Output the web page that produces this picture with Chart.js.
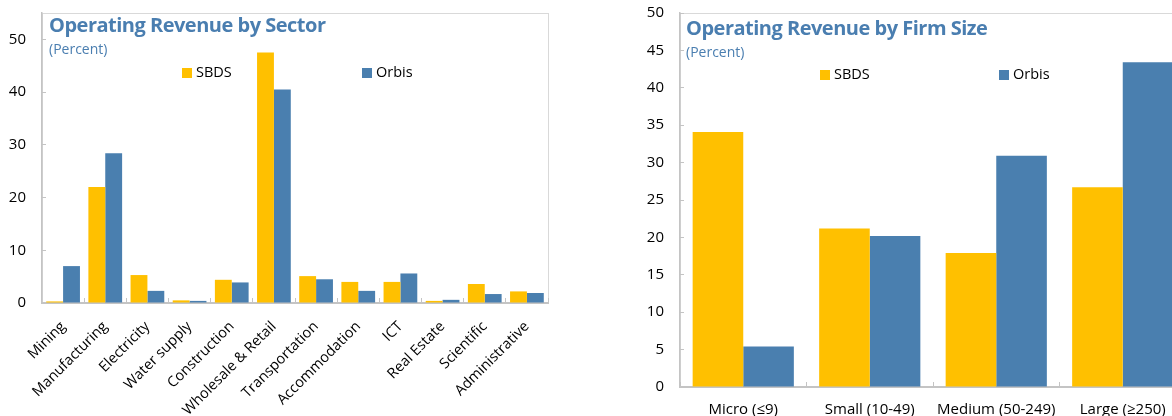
<!DOCTYPE html>
<html>
<head>
<meta charset="utf-8">
<script src="https://cdn.jsdelivr.net/npm/chart.js@4.4.1/dist/chart.umd.min.js"></script>
<style>
    body { margin: 0; width: 1172px; height: 416px; overflow: hidden; background: #fff; font-family: "Open Sans", sans-serif; position: relative; }
    .panel { position: absolute; top: 0; height: 416px; }
    .title { position: absolute; font-weight: bold; font-size: 20px; letter-spacing: -0.5px; line-height: 1; color: #4A7EB0; white-space: nowrap; }
    .sub { position: absolute; font-size: 14px; line-height: 1; color: #4A7EB0; white-space: nowrap; }
    .key { position: absolute; font-size: 14.5px; line-height: 1; color: #000; white-space: nowrap; }
    .key i { display: inline-block; width: 10px; height: 10px; margin-right: 4px; vertical-align: -1px; }
</style>
</head>
<body>
<div class="panel" style="left:0; width:560px;">
    <canvas id="sectorChart"></canvas>
    <div class="title" style="left:49px; top:15px;">Operating Revenue by Sector</div>
    <div class="sub" style="left:49px; top:42px;">(Percent)</div>
    <div class="key" style="left:182px; top:65px;"><i style="background:#FFC000"></i>SBDS</div>
    <div class="key" style="left:362px; top:65px;"><i style="background:#4A7FAF"></i>Orbis</div>
</div>
<div class="panel" style="left:630px; width:570px;">
    <canvas id="sizeChart"></canvas>
    <div class="title" style="left:56px; top:18px;">Operating Revenue by Firm Size</div>
    <div class="sub" style="left:56px; top:45px;">(Percent)</div>
    <div class="key" style="left:190px; top:67px;"><i style="background:#FFC000"></i>SBDS</div>
    <div class="key" style="left:369px; top:67px;"><i style="background:#4A7FAF"></i>Orbis</div>
</div>
<script>
// Data
const sectors = ['Mining', 'Manufacturing', 'Electricity', 'Water supply', 'Construction',
    'Wholesale & Retail', 'Transportation', 'Accommodation', 'ICT', 'Real Estate',
    'Scientific', 'Administrative'];
const sectorSBDS = [0.3, 22.0, 5.3, 0.5, 4.4, 47.5, 5.1, 4.0, 4.0, 0.4, 3.6, 2.2];
const sectorOrbis = [7.0, 28.4, 2.3, 0.4, 3.9, 40.5, 4.5, 2.3, 5.6, 0.6, 1.7, 1.9];

const sizes = ['Micro (≤9)', 'Small (10-49)', 'Medium (50-249)', 'Large (≥250)'];
const sizeSBDS = [34.1, 21.2, 17.9, 26.7];
const sizeOrbis = [5.4, 20.2, 30.9, 43.4];

// Colors
const gold = '#FFC000';
const blue = '#4A7FAF';
const axisGrey = '#C4C4C4';

Chart.defaults.font.family = '"Open Sans", sans-serif';
Chart.defaults.color = '#000';

// Light frame round the plot area
const framePlugin = {
    id: 'frame',
    beforeDraw(chart) {
        const a = chart.chartArea;
        const c = chart.ctx;
        c.save();
        c.strokeStyle = '#D9D9D9';
        c.lineWidth = 1;
        c.strokeRect(a.left + 0.5, a.top + 0.5, a.right - a.left, a.bottom - a.top);
        c.restore();
    }
};

function makeDatasets(sbds, orbis) {
    return [
        { label: 'SBDS', data: sbds, backgroundColor: gold, borderWidth: 0, categoryPercentage: 0.8, barPercentage: 1.0 },
        { label: 'Orbis', data: orbis, backgroundColor: blue, borderWidth: 0, categoryPercentage: 0.8, barPercentage: 1.0 }
    ];
}

// keep the plot area exactly where the padding puts it
function fixY(width) {
    return (scale) => {
        scale.width = width;
        scale.paddingTop = 0;
        scale.paddingBottom = 0;
    };
}
function fixX(height) {
    return (scale) => {
        scale.height = height;
        scale.paddingLeft = 0;
        scale.paddingRight = 0;
    };
}

// Sector chart
function renderSectorChart() {
    const ctx = document.getElementById('sectorChart');
    new Chart(ctx, {
        type: 'bar',
        data: { labels: sectors, datasets: makeDatasets(sectorSBDS, sectorOrbis) },
        plugins: [framePlugin],
        options: {
            responsive: true,
            maintainAspectRatio: false,
            animation: false,
            layout: { padding: { top: 13, right: 12, left: 0, bottom: 0 } },
            plugins: { legend: { display: false }, tooltip: { enabled: false } },
            scales: {
                x: {
                    grid: { drawOnChartArea: false, tickLength: -5, color: axisGrey, offset: true },
                    border: { color: axisGrey, width: 2 },
                    ticks: { maxRotation: 45, minRotation: 45, autoSkip: false, padding: 20, font: { size: 14.5 } },
                    afterFit: fixX(113)
                },
                y: {
                    min: 0,
                    max: 55,
                    grid: { drawOnChartArea: false, tickLength: -4, color: axisGrey },
                    border: { color: axisGrey, width: 1.5 },
                    ticks: { stepSize: 10, padding: 20, font: { size: 15 } },
                    afterBuildTicks: (scale) => { scale.ticks = scale.ticks.filter(t => t.value % 10 === 0); },
                    afterFit: fixY(42)
                }
            }
        }
    });
}

// Firm size chart
function renderSizeChart() {
    const ctx = document.getElementById('sizeChart');
    new Chart(ctx, {
        type: 'bar',
        data: { labels: sizes, datasets: makeDatasets(sizeSBDS, sizeOrbis) },
        plugins: [framePlugin],
        options: {
            responsive: true,
            maintainAspectRatio: false,
            animation: false,
            layout: { padding: { top: 13, right: 14, left: 0, bottom: 0 } },
            plugins: { legend: { display: false }, tooltip: { enabled: false } },
            scales: {
                x: {
                    grid: { drawOnChartArea: false, tickLength: -5, color: axisGrey, offset: true },
                    border: { color: axisGrey, width: 2 },
                    ticks: { maxRotation: 0, minRotation: 0, autoSkip: false, padding: 19, font: { size: 15 } },
                    afterFit: fixX(29)
                },
                y: {
                    min: 0,
                    max: 50,
                    grid: { drawOnChartArea: false, tickLength: -4, color: axisGrey },
                    border: { color: axisGrey, width: 1.5 },
                    ticks: { stepSize: 5, padding: 20, font: { size: 15 } },
                    afterFit: fixY(50)
                }
            }
        }
    });
}

renderSectorChart();
renderSizeChart();
</script>
</body>
</html>
